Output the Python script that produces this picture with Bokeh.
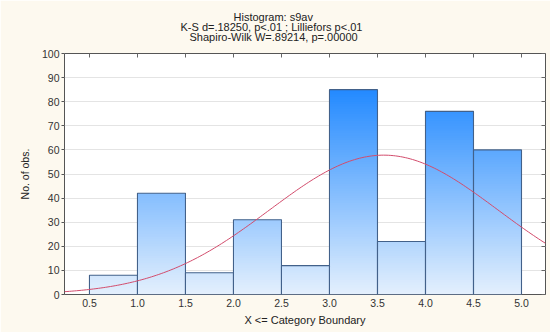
import numpy as np
from bokeh.plotting import figure
from bokeh.models import (LinearAxis, Title, FixedTicker, ColumnDataSource,
                          CustomLabelingPolicy)
from bokeh.embed import file_html
from bokeh.resources import INLINE

# Histogram of s9av: each bin holds the values X <= its upper boundary
bin_upper = [1.0, 1.5, 2.0, 2.5, 3.0, 3.5, 4.0, 4.5, 5.0]
counts = [8, 42, 9, 31, 12, 85, 22, 76, 60]
bin_width = 0.5

x_ticks = [0.5, 1.0, 1.5, 2.0, 2.5, 3.0, 3.5, 4.0, 4.5, 5.0]
y_ticks = [0, 10, 20, 30, 40, 50, 60, 70, 80, 90, 100]

title_lines = [
    "Histogram: s9av",
    "K-S d=.18250, p<.01 ; Lilliefors p<.01",
    "Shapiro-Wilk W=.89214, p=.00000",
]

FONT = "Liberation Sans"
BG = "#fdf9ef"
X_MIN, X_MAX = 0.24, 5.25

p = figure(
    frame_width=481, frame_height=241,
    x_range=(X_MIN, X_MAX), y_range=(0, 100),
    output_backend="svg", toolbar_location=None,
    min_border_left=64, min_border_right=5,
    min_border_bottom=38, min_border_top=53,
)
p.background_fill_color = "white"
p.border_fill_color = BG
p.outline_line_color = "#555555"
p.outline_line_width = 1

# vertical gradient shared by all bars: light at 0, saturated blue higher up
c_low = np.array([228, 240, 253])
c_high = np.array([28, 134, 255])

def grad_color(y):
    t = min(max(y / 88.0, 0.0), 1.0)
    r, g, b = (c_low + (c_high - c_low) * t).round().astype(int)
    return f"#{r:02x}{g:02x}{b:02x}"

lefts = [u - bin_width for u in bin_upper]
strip = dict(left=[], right=[], bottom=[], top=[], color=[])
for k in np.arange(0, 100, 1.0):
    for lo, hi, c in zip(lefts, bin_upper, counts):
        if c > k:
            strip["left"].append(lo)
            strip["right"].append(hi)
            strip["bottom"].append(k)
            strip["top"].append(min(c, k + 1.6))
            strip["color"].append(grad_color(k + 0.5))
p.quad(left="left", right="right", bottom="bottom", top="top",
       fill_color="color", line_color=None, source=ColumnDataSource(strip))

# bar outlines
p.quad(left=lefts, right=bin_upper, bottom=0, top=counts,
       fill_color=None, line_color="#42618a", line_width=1.1)

# expected normal curve fitted to the binned data
vals = np.repeat(bin_upper, counts)
mu, sd = vals.mean(), vals.std(ddof=1)
xs = np.linspace(X_MIN, X_MAX, 200)
ys = len(vals) * bin_width / (sd * np.sqrt(2 * np.pi)) * np.exp(-0.5 * ((xs - mu) / sd) ** 2)
p.line(xs, ys, line_color="#d24c6c", line_width=1.0)

# axes
p.xaxis.ticker = FixedTicker(ticks=x_ticks)
p.xaxis.major_label_overrides = {t: f"{t:.1f}" for t in x_ticks}
p.yaxis.ticker = FixedTicker(ticks=y_ticks)
for ax in (p.xaxis[0], p.yaxis[0]):
    ax.axis_line_color = None
    ax.major_label_text_font = FONT
    ax.major_label_text_font_size = "10.5px"
    ax.major_label_text_color = "#333333"
    ax.axis_label_text_font = FONT
    ax.axis_label_text_font_size = "11px"
    ax.axis_label_text_font_style = "normal"
    ax.axis_label_text_color = "#222222"
    ax.minor_tick_line_color = None
    ax.major_tick_line_color = "#555555"
p.xaxis.axis_label = "X <= Category Boundary"
p.xaxis.major_tick_out = 0
p.xaxis.major_tick_in = 0
p.xaxis.major_label_standoff = 4
p.xaxis.axis_label_standoff = 4
p.yaxis.axis_label = "No. of obs."
p.yaxis.axis_label_text_font_size = "10.5px"
p.yaxis.major_tick_out = 3
p.yaxis.major_tick_in = 0
p.yaxis.major_label_standoff = 2
p.yaxis.axis_label_standoff = 8

p.xgrid.grid_line_color = None
p.ygrid.ticker = FixedTicker(ticks=y_ticks)
p.ygrid.grid_line_color = "#e4e4e4"

# mirrored inward ticks on top and right edges, without labels
no_labels = CustomLabelingPolicy(code="for (const i of indices) indices.unset(i); return indices")
top_ax = LinearAxis(ticker=FixedTicker(ticks=x_ticks), axis_line_color=None,
                    major_tick_in=4, major_tick_out=0, minor_tick_line_color=None,
                    major_tick_line_color="#666666", major_label_policy=no_labels,
                    major_label_standoff=0)
right_ax = LinearAxis(ticker=FixedTicker(ticks=y_ticks), axis_line_color=None,
                      major_tick_in=4, major_tick_out=0, minor_tick_line_color=None,
                      major_tick_line_color="#666666", major_label_policy=no_labels,
                      major_label_standoff=0)
p.add_layout(top_ax, "above")
p.add_layout(right_ax, "right")

# three-line heading; innermost line added first, standoffs set the line spacing
title_offsets = [169, 116, 125]
title_standoffs = [2, -9, 0]
for line, off, so in reversed(list(zip(title_lines, title_offsets, title_standoffs))):
    p.add_layout(Title(text=line, align="left", offset=off,
                       text_font=FONT, text_font_size="11px",
                       text_font_style="normal", text_color="#222222",
                       standoff=so), "above")

open("out.html", "w").write(file_html(p, INLINE))
